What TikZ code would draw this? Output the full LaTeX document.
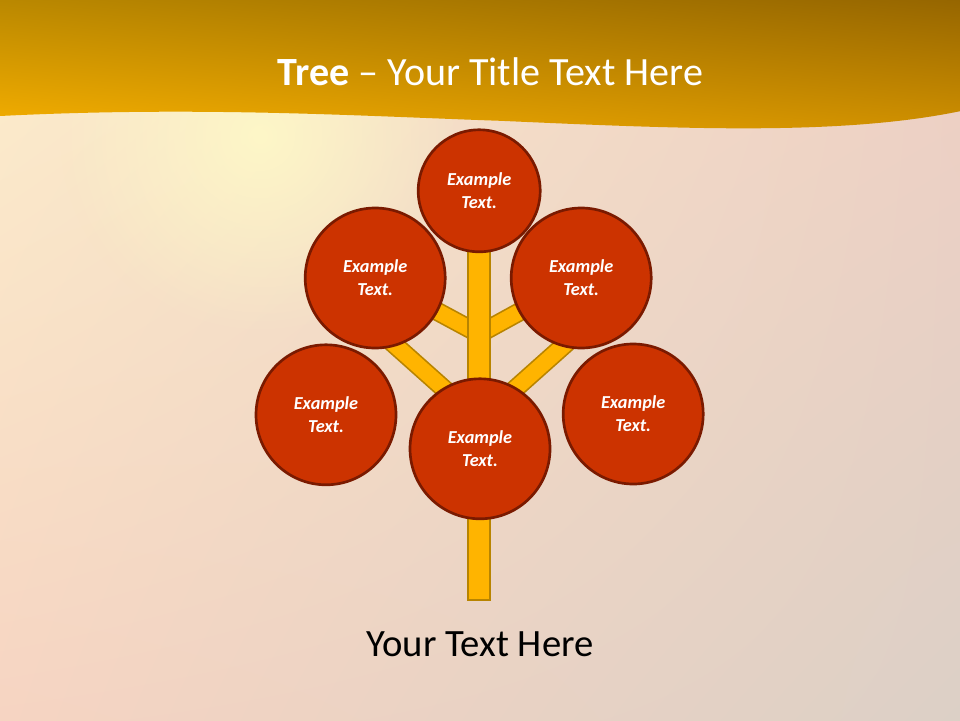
\documentclass[tikz,border=0pt]{standalone}
\usepackage{fontspec}
\setmainfont{Carlito}
\usetikzlibrary{backgrounds,fadings,shadings}
\definecolor{leafred}{HTML}{CC3300}
\definecolor{leafrim}{HTML}{7A1A00}
\definecolor{limbgold}{HTML}{FFB400}
\definecolor{limbrim}{HTML}{B88400}
\definecolor{skyUL}{RGB}{252,238,204}
\definecolor{skyUR}{RGB}{240,208,196}
\definecolor{skyLL}{RGB}{246,212,194}
\definecolor{skyLR}{RGB}{220,208,198}
\definecolor{bandUL}{RGB}{186,136,0}
\definecolor{bandUR}{RGB}{150,102,0}
\definecolor{bandLL}{RGB}{247,176,0}
\definecolor{bandLR}{RGB}{210,146,0}
\tikzfading[name=glowfade, inner color=transparent!0, outer color=transparent!100]
\begin{document}
\begin{tikzpicture}[every node/.style={font=\fontsize{13}{16.4}\selectfont},
  leaf/.style={circle,draw=leafrim,fill=leafred,line width=1.9pt,minimum size=3.5cm,inner sep=0pt,align=center,text=white,font=\fontsize{13}{16.4}\selectfont\bfseries\itshape},
  limb/.style={draw=limbrim,line width=1.2pt,double=limbgold,double distance=11.2pt},
  trunk/.style={draw=limbrim,fill=limbgold,line width=1.2pt,minimum width=0.55cm,minimum height=8.88cm,inner sep=0pt}]
\useasboundingbox (0,0) rectangle (24,18);
% leaves
\node[leaf,minimum size=3.05cm] (top) at (11.98,13.23) {Example\\ Text.};
\node[leaf] (ul) at (9.38,11.05) {Example\\ Text.};
\node[leaf] (ur) at (14.53,11.05) {Example\\ Text.};
\node[leaf] (ll) at (8.15,7.63) {Example\\ Text.};
\node[leaf] (mid) at (12.00,6.78) {Example\\ Text.};
\node[leaf] (lr) at (15.83,7.65) {Example\\ Text.};
% title and caption
\node[anchor=base,text=white,font=\fontsize{28.5}{34}\selectfont] (title) at (12.26,15.85) {\textbf{Tree} – Your Title Text Here};
\node[anchor=base,font=\fontsize{27.5}{33}\selectfont] (caption) at (12.00,1.58) {Your Text Here};
\begin{pgfonlayer}{background}
% backdrop
\shade[upper left=skyUL,upper right=skyUR,lower left=skyLL,lower right=skyLR] (0,0) rectangle (24,18);
\fill[yellow!22!white,path fading=glowfade,opacity=0.8] (6.5,14.6) circle (5);
\shade[upper left=bandUL,upper right=bandUR,lower left=bandLL,lower right=bandLR]
  (0,18) -- (0,15.1) .. controls (5,15.35) and (9,15.1) .. (12.5,14.98) .. controls (17,14.78) and (21,14.6) .. (24,15.22) -- (24,18) -- cycle;
% limbs
\coordinate (knot) at (11.98,9.65);
\coordinate (forkL) at (11.75,7.70); \coordinate (tipL) at (9.25,9.93);
\coordinate (forkR) at (12.23,7.70); \coordinate (tipR) at (14.73,9.93);
\draw[limb] (knot) -- (ul.center); \draw[limb] (knot) -- (ur.center);
\draw[limb] (forkL) -- (tipL); \draw[limb] (forkR) -- (tipR);
\node[trunk] (stem) at (11.98,7.44) {};
\end{pgfonlayer}
\end{tikzpicture}
\end{document}
